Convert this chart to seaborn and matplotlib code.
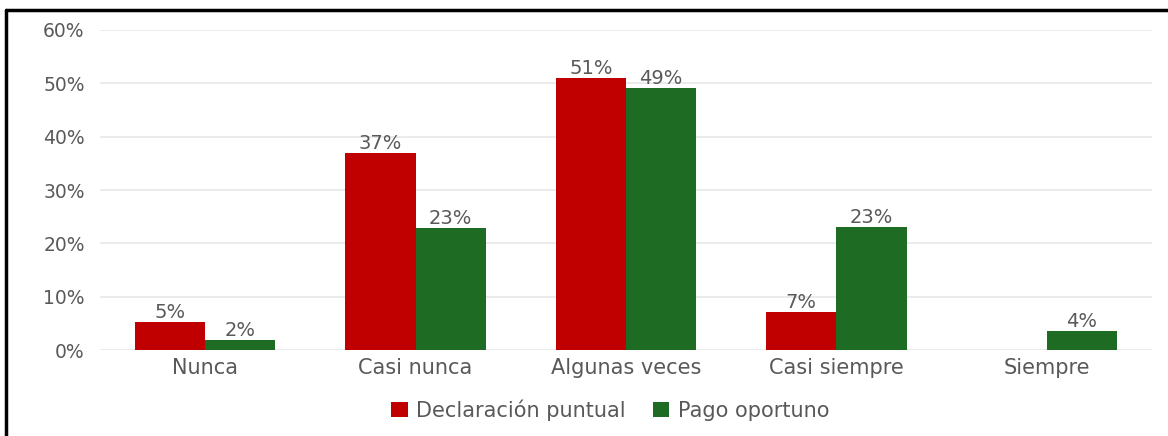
"""
Declaración puntual vs Pago oportuno - grouped bar chart.
"""

import pandas as pd
import seaborn as sns
import matplotlib.pyplot as plt
from matplotlib.lines import Line2D
from matplotlib.patches import Patch


CATEGORIES = ["Nunca", "Casi nunca", "Algunas veces", "Casi siempre", "Siempre"]
SERIES = ["Declaración puntual", "Pago oportuno"]
DECLARACION = [5.3, 37.0, 51.0, 7.1, 0.0]
PAGO = [1.9, 22.9, 49.1, 23.0, 3.6]
DECLARACION_LABELS = ["5%", "37%", "51%", "7%", ""]
PAGO_LABELS = ["2%", "23%", "49%", "23%", "4%"]
Y_TICKS = [0, 10, 20, 30, 40, 50, 60]

COLORS = ["#C00000", "#1E6B24"]
TEXT_COLOR = "#595959"


def build_dataframe() -> pd.DataFrame:
    rows = []
    for cat, d, p in zip(CATEGORIES, DECLARACION, PAGO):
        rows.append({"Categoria": cat, "Serie": SERIES[0], "Valor": d})
        rows.append({"Categoria": cat, "Serie": SERIES[1], "Valor": p})
    return pd.DataFrame(rows)


def main() -> None:
    df = build_dataframe()

    sns.set_style("white")
    plt.rcParams["font.family"] = ["DejaVu Sans"]

    fig = plt.figure(figsize=(11.68, 4.36), dpi=100)
    ax = fig.add_axes([100 / 1168, 86 / 436, 1052 / 1168, 320 / 436])

    sns.barplot(
        data=df,
        x="Categoria",
        y="Valor",
        hue="Serie",
        order=CATEGORIES,
        hue_order=SERIES,
        palette=COLORS,
        width=2 / 3,
        saturation=1,
        errorbar=None,
        legend=False,
        linewidth=0,
        edgecolor="none",
        ax=ax,
        zorder=3,
    )

    for container, labels in zip(ax.containers, [DECLARACION_LABELS, PAGO_LABELS]):
        ax.bar_label(container, labels=labels, padding=0,
                     fontsize=14, color=TEXT_COLOR)

    ax.set_xlim(-0.5, len(CATEGORIES) - 0.5)
    ax.set_ylim(0, 60)
    ax.set_yticks(Y_TICKS)
    ax.set_yticklabels([f"{t}%" for t in Y_TICKS])
    ax.set_xlabel("")
    ax.set_ylabel("")
    ax.grid(axis="y", color="#E8E8E8", linewidth=1.2, zorder=0)
    for spine in ax.spines.values():
        spine.set_visible(False)
    ax.tick_params(axis="y", length=0, pad=11, labelsize=13.5, labelcolor=TEXT_COLOR)
    ax.tick_params(axis="x", length=0, pad=6, labelsize=15, labelcolor=TEXT_COLOR)

    handles = [Patch(facecolor=c, edgecolor="none") for c in COLORS]
    fig.legend(
        handles,
        SERIES,
        loc="center",
        bbox_to_anchor=(610 / 1168, 1 - 410 / 436),
        ncol=2,
        frameon=False,
        fontsize=15,
        handlelength=0.8,
        handleheight=0.8,
        handletextpad=0.4,
        columnspacing=1.3,
        labelcolor=TEXT_COLOR,
    )

    # black frame on the left and top edges
    fig.add_artist(Line2D([6 / 1168, 6 / 1168], [0, 1 - 10 / 436],
                          color="black", linewidth=2.5))
    fig.add_artist(Line2D([6 / 1168, 1], [1 - 10 / 436, 1 - 10 / 436],
                          color="black", linewidth=2.5))

    fig.savefig("out.png", dpi=100)


if __name__ == "__main__":
    main()
